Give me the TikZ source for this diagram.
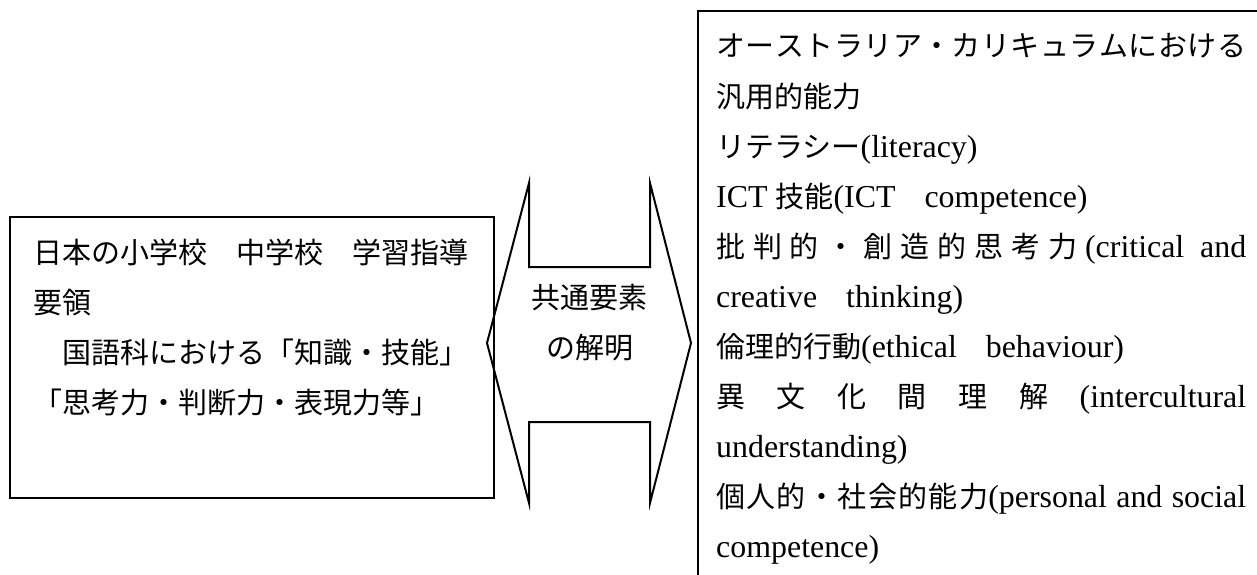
\documentclass[tikz,border=0pt]{standalone}
\usepackage{fontspec}
\setmainfont[Scale=1.1]{Liberation Serif}
\newfontfamily\jp{Noto Sans CJK JP}
\newcommand\J[1]{{\jp #1}}
\tikzset{
  frame/.style={draw, line width=2pt, inner sep=0pt, outer sep=0pt},
  tline/.style={anchor=base west, inner sep=0pt, font=\fontsize{29}{29}\selectfont},
  mid/.style={anchor=base, inner sep=0pt, font=\fontsize{29}{29}\selectfont\jp},
  twoway/.style={draw, line width=2pt, line join=miter},
}
\begin{document}
\begin{tikzpicture}[x=1pt,y=-1pt]
\useasboundingbox (0,0) rectangle (1257,575);
\clip (0,0) rectangle (1257,575);
% boxes
\node[frame, anchor=north west, minimum width=484, minimum height=281] (lbox) at (10,217) {};
\node[frame, anchor=north west, minimum width=620, minimum height=620] (rbox) at (698,11) {};
% double-headed block arrow
\draw[twoway] (529,183) -- (529,267) -- (650,267) -- (650,183) -- (691,343) -- (650,503)
  -- (650,422) -- (529,422) -- (529,503) -- (487,343) -- cycle;
% left text
\node[tline] (l1) at (33,263) {\J{日本の小学校　中学校　学習指導}};
\node[tline] (l2) at (33,313) {\J{要領}};
\node[tline] (l3) at (33,363) {\J{　国語科における「知識・技能」}};
\node[tline] (l4) at (33,413) {\J{「思考力・判断力・表現力等」}};
% middle text
\node[mid] (m1) at (589.5,308) {共通要素};
\node[mid] (m2) at (589.5,358) {の解明};
% right text
\node[tline] (r1) at (716,57) {\makebox[530pt][s]{\J{オ}\hfil\J{ー}\hfil\J{ス}\hfil\J{ト}\hfil\J{ラ}\hfil\J{リ}\hfil\J{ア}\hfil\J{・}\hfil\J{カ}\hfil\J{リ}\hfil\J{キ}\hfil\J{ュ}\hfil\J{ラ}\hfil\J{ム}\hfil\J{に}\hfil\J{お}\hfil\J{け}\hfil\J{る}}};
\node[tline] (r2) at (716,107) {\J{汎用的能力}};
\node[tline] (r3) at (716,157) {\J{リテラシー}(literacy)};
\node[tline] (r4) at (716,207) {ICT \J{技能}(ICT\J{　}competence)};
\node[tline] (r5) at (716,257) {\makebox[530pt][s]{\J{批}\hfil\J{判}\hfil\J{的}\hfil\J{・}\hfil\J{創}\hfil\J{造}\hfil\J{的}\hfil\J{思}\hfil\J{考}\hfil\J{力}\hfil(critical \hfil and}};
\node[tline] (r6) at (716,307) {creative\J{　}thinking)};
\node[tline] (r7) at (716,357) {\J{倫理的行動}(ethical\J{　}behaviour)};
\node[tline] (r8) at (716,407) {\makebox[530pt][s]{\J{異}\hfil\J{文}\hfil\J{化}\hfil\J{間}\hfil\J{理}\hfil\J{解}\hfil(intercultural}};
\node[tline] (r9) at (716,457) {understanding)};
\node[tline] (r10) at (716,507) {\makebox[530pt][s]{\J{個}\hfil\J{人}\hfil\J{的}\hfil\J{・}\hfil\J{社}\hfil\J{会}\hfil\J{的}\hfil\J{能}\hfil\J{力}(personal \hfil and \hfil social}};
\node[tline] (r11) at (716,557) {competence)};
\end{tikzpicture}
\end{document}
